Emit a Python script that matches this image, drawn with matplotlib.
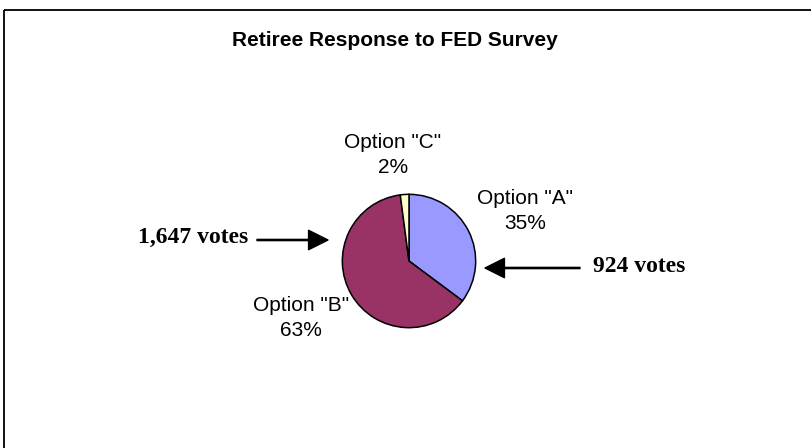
import matplotlib
matplotlib.use("Agg")
import matplotlib.pyplot as plt
from matplotlib.patches import Rectangle

# 설문 데이터
options = ['Option "A"', 'Option "B"', 'Option "C"']
votes = [924, 1647, 55]
colors = ["#9999FF", "#993366", "#FFFFCC"]
title = "Retiree Response to FED Survey"
vote_notes = ["924 votes", "1,647 votes"]

W, H = 812, 448
fig = plt.figure(figsize=(W / 100, H / 100), dpi=100)

# 픽셀 좌표용 배경 축 (테두리, 화살표, 글자)
bg = fig.add_axes([0, 0, 1, 1])
bg.set_xlim(0, W)
bg.set_ylim(H, 0)
bg.axis("off")
bg.add_patch(Rectangle((4, 10), W + 20, H + 20, fill=False, lw=1.3, ec="black"))

bg.text(395, 40, title, ha="center", va="center", fontsize=15,
        fontweight="bold", family="Liberation Sans")

# 파이 차트
cx, cy, r = 409, 261, 68
ax = fig.add_axes([(cx - r) / W, (H - cy - r) / H, 2 * r / W, 2 * r / H])
wedges, _ = ax.pie(votes, colors=colors, startangle=90, counterclock=False,
                   wedgeprops=dict(edgecolor="black", linewidth=1.1))
ax.set_xlim(-1.02, 1.02)
ax.set_ylim(-1.02, 1.02)
ax.set_aspect("equal")

total = sum(votes)
pct = [round(v / total * 100) for v in votes]
label_pos = [(525, 211), (301, 318), (393, 155)]
for name, p, (x, y) in zip(options, pct, label_pos):
    bg.text(x, y, f"{name}\n{p}%", ha="center", va="center", fontsize=15,
            family="Liberation Sans", linespacing=1.42)

# 득표수 화살표
arrow = dict(width=0.9, headwidth=14, headlength=14, color="black", shrink=0)
bg.annotate("", xy=(485, 268), xytext=(580, 268), arrowprops=arrow)
bg.annotate("", xy=(328, 240), xytext=(257, 240), arrowprops=arrow)
bg.text(593, 267, vote_notes[0], ha="left", va="center", fontsize=17,
        fontweight="bold", family="Liberation Serif")
bg.text(248, 237, vote_notes[1], ha="right", va="center", fontsize=17,
        fontweight="bold", family="Liberation Serif")

fig.savefig("out.png", dpi=100)
